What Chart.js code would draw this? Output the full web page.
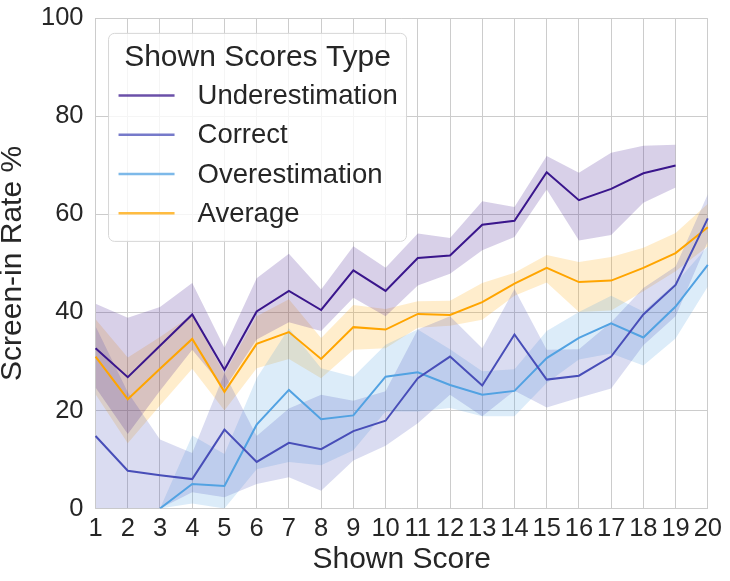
<!DOCTYPE html>
<html><head><meta charset="utf-8">
<script src="https://cdn.jsdelivr.net/npm/chart.js@4.4.1/dist/chart.umd.min.js"></script>
<style>html,body{margin:0;background:#fff}</style>
</head><body>
<canvas id="chart" width="730" height="581"></canvas>
<script>
const $=id=>document.getElementById(id);
const FONT='"Liberation Sans", Arial, sans-serif';
const INK='#262626';

// shown score 1..20
const scores=["1","2","3","4","5","6","7","8","9","10","11","12","13","14","15","16","17","18","19","20"];

// Underestimation: mean + 95% CI
const underMean=[32.7,26.8,33.2,39.6,28.3,40.2,44.4,40.5,48.6,44.4,51.1,51.6,57.9,58.7,68.6,62.9,65.2,68.4,70.0,null];
const underHigh=[41.8,38.9,41.1,46.0,32.8,47.0,52.0,44.7,53.5,49.1,56.1,55.2,62.7,61.5,71.9,68.5,72.6,74.0,74.2,null];
const underLow =[24.7,15.2,24.0,32.4,24.5,34.5,38.0,36.2,43.0,39.2,45.5,47.9,52.7,55.4,65.1,54.7,55.8,62.4,65.5,null];

// Correct
const corrMean=[14.8,7.7,6.8,6.0,16.1,9.5,13.4,12.1,15.8,17.9,26.6,31.0,25.1,35.5,26.3,27.1,31.0,39.6,45.6,59.2];
const corrHigh=[37.2,23.7,14.1,11.3,27.6,14.8,20.4,23.2,22.0,23.9,36.5,39.2,32.7,44.8,32.4,32.5,38.0,45.0,49.4,64.1];
const corrLow =[0,0,0,3.3,2.3,5.0,6.4,3.6,9.8,12.8,17.4,23.2,18.8,24.0,20.6,22.6,24.5,33.3,39.2,54.5];

// Overestimation
const overMean=[null,null,0,5.0,4.6,17.1,24.2,18.2,19.0,26.9,27.8,25.2,23.2,24.0,30.7,34.8,37.8,34.9,41.2,49.7];
const overHigh=[null,null,0,14.9,11.1,26.6,36.8,28.6,26.9,33.4,36.5,32.5,28.0,28.4,36.2,40.1,43.4,40.2,46.0,53.5];
const overLow =[null,null,0,1.0,0,8.0,9.5,8.8,11.9,19.8,19.8,20.5,18.8,18.8,25.6,30.4,31.6,29.2,34.7,45.3];

// Average
const avgMean=[31.0,22.3,28.5,34.6,23.8,33.6,36.0,30.5,37.0,36.5,39.7,39.5,42.1,45.9,49.1,46.2,46.5,49.1,52.1,57.4];
const avgHigh=[38.6,30.8,35.0,39.5,27.5,39.2,42.7,34.8,41.5,40.7,42.3,42.4,46.0,48.1,51.7,50.3,51.3,53.2,56.2,62.2];
const avgLow =[23.3,13.3,21.0,28.5,20.0,28.6,30.5,26.6,32.4,32.7,36.9,37.3,38.5,43.4,46.1,40.1,40.4,44.3,48.4,53.5];

const yTicks=[0,20,40,60,80,100];

const series=[
  {name:"Underestimation",mean:underMean,hi:underHigh,lo:underLow,rgb:[58,22,140]},
  {name:"Correct",mean:corrMean,hi:corrHigh,lo:corrLow,rgb:[72,78,184]},
  {name:"Overestimation",mean:overMean,hi:overHigh,lo:overLow,rgb:[82,162,226]},
  {name:"Average",mean:avgMean,hi:avgHigh,lo:avgLow,rgb:[255,165,0]}
];
const rgba=(c,a)=>`rgba(${c[0]},${c[1]},${c[2]},${a})`;

const datasets=[];
series.forEach(s=>{
  datasets.push({label:s.name+" hi",data:s.hi,borderWidth:0,pointRadius:0,fill:false,order:2,spanGaps:false});
  datasets.push({label:s.name+" lo",data:s.lo,borderWidth:0,pointRadius:0,fill:"-1",backgroundColor:rgba(s.rgb,0.2),order:2,spanGaps:false});
});
series.forEach(s=>{
  datasets.push({label:s.name,data:s.mean,borderColor:rgba(s.rgb,1),borderWidth:2,pointRadius:0,fill:false,tension:0,order:1,spanGaps:false});
});

const boxLegend={
  id:"boxLegend",
  afterDatasetsDraw(c){
    const {ctx,chartArea:a}=c;
    const x0=a.left+13,y0=a.top+15,w=298,h=208;
    ctx.save();
    ctx.beginPath();ctx.roundRect(x0,y0,w,h,6);
    ctx.fillStyle="rgba(255,255,255,0.8)";ctx.fill();
    ctx.strokeStyle="#d6d6d6";ctx.lineWidth=1;ctx.stroke();
    ctx.fillStyle=INK;ctx.textAlign="center";ctx.textBaseline="alphabetic";
    ctx.font=`30px ${FONT}`;
    ctx.fillText("Shown Scores Type",x0+w/2,y0+33);
    ctx.font=`27.5px ${FONT}`;ctx.textAlign="left";ctx.textBaseline="middle";
    series.forEach((s,i)=>{
      const y=y0+62+i*39.3;
      ctx.strokeStyle=rgba(s.rgb,0.75);ctx.lineWidth=2.5;
      ctx.beginPath();ctx.moveTo(x0+10,y);ctx.lineTo(x0+66,y);ctx.stroke();
      ctx.fillStyle=INK;ctx.fillText(s.name,x0+89,y+1);
    });
    ctx.restore();
  }
};

new Chart($("chart"),{
  type:"line",
  data:{labels:scores,datasets},
  options:{
    responsive:false,animation:false,devicePixelRatio:1,
    layout:{padding:{top:-2,right:-4,left:-2,bottom:-3}},
    plugins:{legend:{display:false},tooltip:{enabled:false}},
    scales:{
      x:{type:"category",offset:false,
        grid:{color:"#cccccc",lineWidth:1,drawTicks:false},
        border:{color:"#cccccc"},
        ticks:{font:{family:FONT,size:25.5,lineHeight:1},color:INK,padding:8,autoSkip:false,maxRotation:0},
        title:{display:true,text:"Shown Score",font:{family:FONT,size:30,lineHeight:1},color:INK,padding:{top:-5,bottom:9}}},
      y:{min:0,max:100,
        afterBuildTicks:ax=>{ax.ticks=yTicks.map(v=>({value:v}))},
        grid:{color:"#cccccc",lineWidth:1,drawTicks:false},
        border:{color:"#cccccc"},
        ticks:{font:{family:FONT,size:25.5,lineHeight:0.5},color:INK,padding:12},
        title:{display:true,text:"Screen-in Rate %",font:{family:FONT,size:30,lineHeight:1},color:INK,padding:{top:0,bottom:1}}}
    }
  },
  plugins:[boxLegend]
});
</script>
</body></html>
